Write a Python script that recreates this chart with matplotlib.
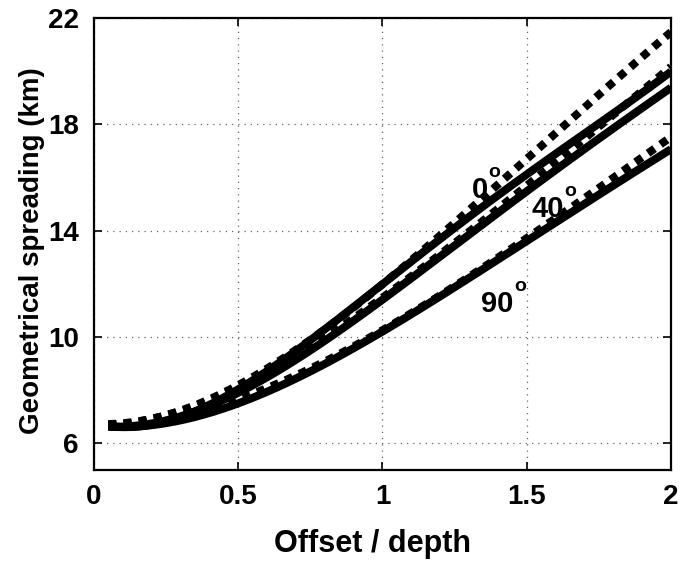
import numpy as np
import matplotlib
matplotlib.use('Agg')
import matplotlib.pyplot as plt

# offset / depth sample positions
offset = [0.05, 0.25, 0.5, 0.75, 1.0, 1.25, 1.5, 1.75, 2.0]

# solid curves
solid_0 = [6.65, 6.85, 8.0, 9.9, 12.0, 14.1, 16.1, 18.05, 19.98]
solid_40 = [6.65, 6.82, 7.95, 9.5, 11.37, 13.45, 15.5, 17.45, 19.38]
solid_90 = [6.62, 6.78, 7.5, 8.7, 10.2, 11.9, 13.6, 15.35, 17.07]

# dotted curves
dot_0 = [6.72, 7.1, 8.12, 9.95, 12.0, 14.25, 16.72, 19.12, 21.47]
dot_40 = [6.7, 7.05, 8.1, 9.65, 11.45, 13.55, 15.7, 17.9, 20.17]
dot_90 = [6.68, 6.95, 7.65, 8.8, 10.25, 11.95, 13.7, 15.6, 17.53]

# angle labels: text, x, y
angle_labels = ['0', '40', '90']
label_x = [1.31, 1.518, 1.342]
label_y = [15.22, 14.51, 10.93]

xticks = [0, 0.5, 1, 1.5, 2]
xticklabels = ['0', '0.5', '1', '1.5', '2']
yticks = [6, 10, 14, 18, 22]

plt.rcParams['font.family'] = ['Liberation Sans', 'DejaVu Sans']
plt.rcParams['font.weight'] = 'bold'
plt.rcParams['axes.labelweight'] = 'bold'

fig = plt.figure(figsize=(6.84, 5.62), dpi=100)
ax = fig.add_axes([0.1374, 0.1637, 0.8436, 0.8043])


def smooth(x, y):
    xs = np.linspace(x[0], x[-1], 300)
    c = np.polyfit(x, y, 4)
    return xs, np.polyval(c, xs)


lw = 5.8
for ys in (solid_0, solid_40, solid_90):
    xs, yy = smooth(offset, ys)
    ax.plot(xs, yy, color='black', lw=lw, solid_capstyle='butt')
for ys in (dot_0, dot_40, dot_90):
    xs, yy = smooth(offset, ys)
    ax.plot(xs, yy, color='black', lw=lw, linestyle=(0, (1.0, 0.9)))

# digits plus a raised "o" for degrees
for t, x, y in zip(angle_labels, label_x, label_y):
    ax.text(x, y, t, fontsize=21, va='baseline')
    ax.annotate('o', xy=(x, y), xytext=(11.8 * len(t), 15),
                textcoords='offset points', fontsize=14, va='baseline')

ax.set_xlim(0, 2)
ax.set_ylim(5, 22)
ax.set_xticks(xticks)
ax.set_xticklabels(xticklabels)
ax.set_yticks(yticks)
ax.tick_params(direction='in', top=True, right=True, length=6, width=1.2,
               labelsize=20)
ax.tick_params(axis='x', pad=10)
ax.tick_params(axis='y', pad=11)
for s in ax.spines.values():
    s.set_linewidth(1.6)
ax.grid(True, linestyle=(0, (1, 4)), color='#666666', linewidth=0.9)

ax.set_xlabel('Offset / depth', fontsize=22)
ax.set_ylabel('Geometrical spreading (km)', fontsize=20)
ax.xaxis.set_label_coords(0.482, -0.13)
ax.yaxis.set_label_coords(-0.085, 0.4845)

fig.savefig('out.png', dpi=100)
